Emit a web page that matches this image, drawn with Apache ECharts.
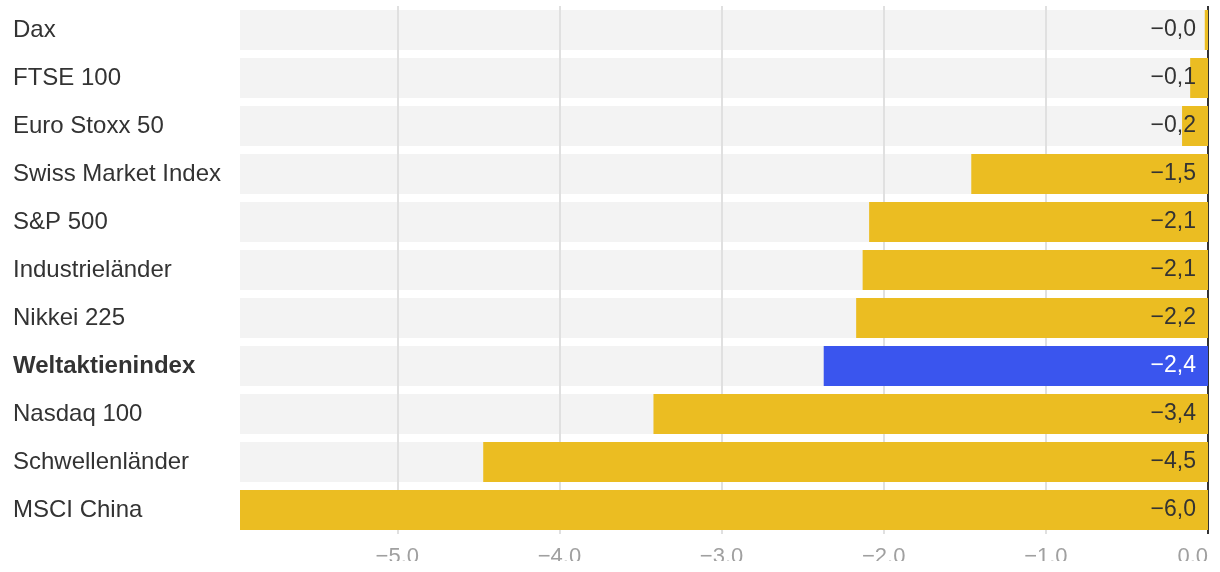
<!DOCTYPE html>
<html><head><meta charset="utf-8">
<script src="https://cdn.jsdelivr.net/npm/echarts@6/dist/echarts.min.js"></script>
<style>html,body{margin:0;padding:0;background:#fff;}#wrap{position:relative;width:1220px;height:572px;}#c{width:1220px;height:572px;}#cut{position:absolute;left:0;top:561px;width:1220px;height:11px;background:#fff;}</style>
</head><body><div id="wrap"><div id="c"></div><div id="cut"></div></div>
<script>
const categories = ["Dax","FTSE 100","Euro Stoxx 50","Swiss Market Index","S&P 500","Industrieländer","Nikkei 225","Weltaktienindex","Nasdaq 100","Schwellenländer","MSCI China"];
const values = [-0.02,-0.11,-0.16,-1.46,-2.09,-2.13,-2.17,-2.37,-3.42,-4.47,-5.97];
const highlight = "Weltaktienindex";
const axisMin = -5.97;
const FONT = '"Liberation Sans", Arial, Helvetica, sans-serif';
const fmt = v => v.toFixed(1).replace('.', ',').replace('-', '\u2212');
const chart = echarts.init(document.getElementById('c'));
chart.setOption({
  animation:false,
  grid:{left:240,right:12,top:6,bottom:38,containLabel:false},
  xAxis:{type:'value',min:axisMin,max:0,splitNumber:6,z:3,
    axisLine:{show:false},axisTick:{show:false},
    splitLine:{show:true,showMinLine:false,lineStyle:{color:'#e0e0e0',width:2}},
    axisLabel:{showMinLabel:false,alignMaxLabel:'right',margin:12,color:'#a0a0a0',fontSize:22,fontFamily:FONT,
      formatter:v=>v.toFixed(1).replace('-', '\u2212')}},
  yAxis:{type:'category',data:categories,inverse:true,
    axisLine:{show:false},axisTick:{show:false},splitLine:{show:false},
    axisLabel:{align:'left',margin:227,fontSize:24,fontFamily:FONT,color:'#333',
      formatter:v=> v===highlight ? '{b|'+v+'}' : v,
      rich:{b:{fontWeight:'bold',fontSize:24,fontFamily:FONT,color:'#333'}}}},
  series:[
    {type:'bar',z:1,silent:true,barCategoryGap:'16.67%',barGap:'-100%',
     data:categories.map(()=>axisMin),itemStyle:{color:'#f3f3f3'}},
    {type:'bar',z:5,barCategoryGap:'16.67%',barGap:'-100%',
     data:values.map((v,i)=>({value:v,
       itemStyle:{color: categories[i]===highlight ? '#3a55ee' : '#ebbd22'},
       label:{color: categories[i]===highlight ? '#fff' : '#333'}})),
     label:{show:true,position:'insideRight',distance:12,fontSize:23,fontFamily:FONT,
       formatter:p=>fmt(p.value)},
     markLine:{silent:true,symbol:'none',label:{show:false},
       lineStyle:{color:'#333',width:2,type:'solid'},data:[{xAxis:0}]}}
  ]
});
</script></body></html>
